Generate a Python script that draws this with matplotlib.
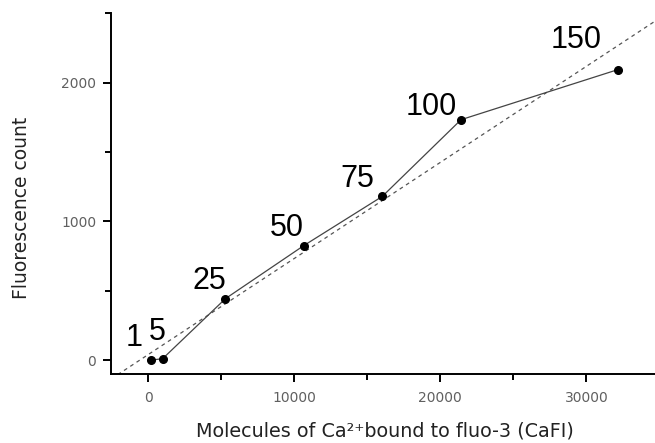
import numpy as np
import matplotlib
matplotlib.use('Agg')
import matplotlib.pyplot as plt
from matplotlib.ticker import MultipleLocator

plt.rcParams['font.family'] = ['DejaVu Sans']

# Ca2+ concentration labels and measured points
conc_labels = ['1', '5', '25', '50', '75', '100', '150']
cafl = [200, 1000, 5300, 10670, 16035, 21425, 32160]
fluor = [0, 10, 443, 826, 1180, 1733, 2094]
# label offsets from each point, in pixels
label_dx = [-17, -5, -16, -17, -25, -30, -42]
label_dy = [22, 27, 18, 18, 17, 13, 30]

fig = plt.figure(figsize=(6.55, 4.43), dpi=100)
ax = fig.add_axes([0.1702, 0.1558, 0.8298, 0.8142])

xlim = (-2500, 34700)
ylim = (-100, 2500)

# linear fit
k, b = np.polyfit(cafl, fluor, 1)
xx = np.array(xlim)
ax.plot(xx, k * xx + b, ls=(0, (3, 3)), color='#555555', lw=0.9)

ax.plot(cafl, fluor, '-', color='#444444', lw=0.9)
ax.plot(cafl, fluor, 'o', color='black', ms=5.5)

for lab, x, y, dx, dy in zip(conc_labels, cafl, fluor, label_dx, label_dy):
    ax.annotate(lab, (x, y), xytext=(dx, dy), textcoords='offset pixels',
                ha='center', va='center', fontsize=22, color='black',
                family='Liberation Sans')

ax.set_xlim(*xlim)
ax.set_ylim(*ylim)
ax.spines['top'].set_visible(False)
ax.spines['right'].set_visible(False)
for s in ['left', 'bottom']:
    ax.spines[s].set_linewidth(1.4)

ax.xaxis.set_major_locator(MultipleLocator(10000))
ax.xaxis.set_minor_locator(MultipleLocator(5000))
ax.yaxis.set_major_locator(MultipleLocator(1000))
ax.yaxis.set_minor_locator(MultipleLocator(500))
ax.tick_params(which='major', direction='out', length=6, width=1.4,
               labelsize=10, labelcolor='#606060', pad=5)
ax.tick_params(axis='x', which='major', pad=6)
ax.tick_params(which='minor', direction='out', length=4, width=1.4)

ax.set_xlabel('Molecules of Ca²⁺bound to fluo-3 (CaFI)', fontsize=13.8,
              color='#222222', va='top')
ax.xaxis.set_label_coords(0.503, -0.133)
ax.set_ylabel('Fluorescence count', fontsize=13.5, color='#222222')
ax.yaxis.set_label_coords(-0.148, 0.46)

plt.savefig('out.png', dpi=100)
plt.close()
